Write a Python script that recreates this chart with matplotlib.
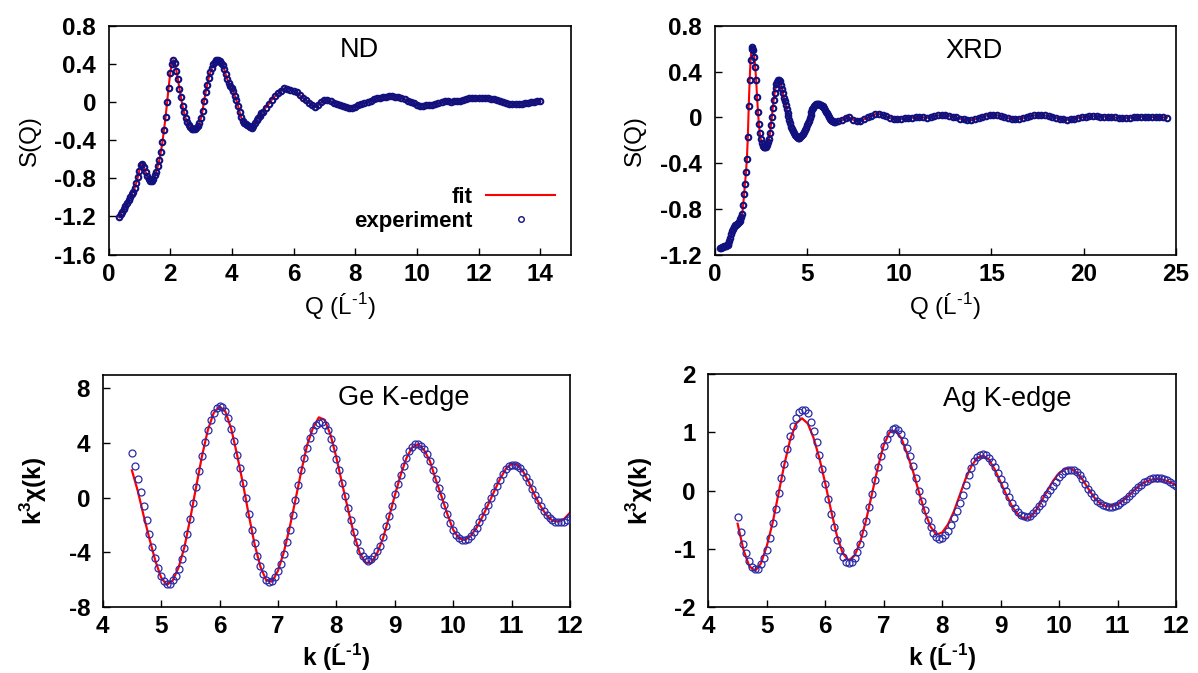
import numpy as np
import matplotlib
matplotlib.use('Agg')
import matplotlib.pyplot as plt
from matplotlib.ticker import FuncFormatter

# ---------------- data ----------------
# ND: S(Q), part 1 from Q=0.35 step 0.05, part 2 from Q=5.1 step 0.1
nd_q1_start, nd_q1_step = 0.35, 0.05
nd_s1 = [-1.21, -1.18, -1.15, -1.12, -1.09, -1.06, -1.03, -1.00, -0.97, -0.94,
         -0.90, -0.85, -0.79, -0.72, -0.66, -0.65, -0.68, -0.73, -0.78, -0.81,
         -0.83, -0.83, -0.81, -0.77, -0.73, -0.67, -0.61, -0.52, -0.42, -0.29,
         -0.16, 0.00, 0.15, 0.30, 0.40, 0.44, 0.41, 0.33, 0.24, 0.14,
         0.05, -0.04, -0.11, -0.17, -0.21, -0.24, -0.26, -0.28, -0.285, -0.28,
         -0.27, -0.25, -0.22, -0.17, -0.09, 0.01, 0.10, 0.18, 0.25, 0.31,
         0.36, 0.40, 0.42, 0.435, 0.44, 0.43, 0.41, 0.39, 0.35, 0.29,
         0.24, 0.20, 0.17, 0.15, 0.11, 0.06, 0.02, -0.04, -0.10, -0.16,
         -0.20, -0.22, -0.23, -0.24, -0.25, -0.26, -0.27, -0.25, -0.22, -0.19,
         -0.17, -0.15, -0.12, -0.10]
nd_q2_start, nd_q2_step = 5.1, 0.1
nd_s2 = [-0.06, -0.02, 0.025, 0.06, 0.09, 0.12, 0.145, 0.14, 0.13, 0.12,
         0.10, 0.07, 0.04, 0.02, -0.01, -0.03, -0.05, -0.03, 0.00, 0.02,
         0.02, 0.01, -0.01, -0.025, -0.035, -0.045, -0.055, -0.062, -0.06, -0.05,
         -0.035, -0.02, -0.01, 0.00, 0.015, 0.03, 0.04, 0.045, 0.05, 0.055,
         0.06, 0.06, 0.055, 0.05, 0.042, 0.03, 0.015, 0.00, -0.015, -0.03,
         -0.038, -0.038, -0.035, -0.03, -0.028, -0.025, -0.015, -0.005, 0.005, 0.005,
         0.003, 0.005, 0.007, 0.01, 0.02, 0.03, 0.038, 0.042, 0.042, 0.045,
         0.045, 0.043, 0.04, 0.035, 0.03, 0.02, 0.01, 0.00, -0.01, -0.018,
         -0.02, -0.022, -0.02, -0.018, -0.015, -0.01, -0.005, 0.00, 0.005, 0.01]

# XRD: S(Q), part 1 from Q=0.30 step 0.05, part 2 from Q=6.7 step 0.2
xrd_q1_start, xrd_q1_step = 0.30, 0.05
xrd_s1 = [-1.14, -1.135, -1.13, -1.13, -1.125, -1.12, -1.12, -1.115, -1.11, -1.10,
          -1.08, -1.05, -1.02, -0.995, -0.975, -0.955, -0.94, -0.935, -0.93, -0.925,
          -0.915, -0.905, -0.89, -0.87, -0.84, -0.76, -0.67, -0.58, -0.48, -0.36,
          -0.17, 0.10, 0.33, 0.50, 0.60, 0.61, 0.59, 0.53, 0.44, 0.33,
          0.18, 0.05, -0.06, -0.14, -0.19, -0.22, -0.245, -0.255, -0.26, -0.262,
          -0.255, -0.24, -0.215, -0.19, -0.14, -0.07, 0.00, 0.08, 0.15, 0.21,
          0.26, 0.29, 0.31, 0.325, 0.33, 0.315, 0.285, 0.25, 0.21, 0.17,
          0.14, 0.11, 0.07, 0.035, 0.01, -0.02, -0.05, -0.08, -0.10, -0.12,
          -0.14, -0.155, -0.165, -0.175, -0.18, -0.18, -0.178, -0.172, -0.165, -0.155,
          -0.145, -0.13, -0.11, -0.09, -0.07, -0.05, -0.03, -0.005, 0.02, 0.045,
          0.07, 0.085, 0.10, 0.11, 0.118, 0.12, 0.12, 0.115, 0.11, 0.105,
          0.10, 0.096, 0.09, 0.08, 0.065, 0.05, 0.035, 0.02, 0.005, -0.01,
          -0.02, -0.03, -0.035, -0.037, -0.037]
xrd_q2_start, xrd_q2_step = 6.7, 0.2
xrd_s2 = [-0.033, -0.025, -0.005, 0.000, -0.02, -0.033, -0.03, -0.015, 0.00, 0.015,
          0.028, 0.032, 0.025, 0.01, -0.005, -0.012, -0.015, -0.012, -0.008, -0.005,
          -0.002, 0.002, 0.004, 0.002, -0.003, 0.000, 0.01, 0.018, 0.022, 0.02,
          0.015, 0.008, 0.00, -0.01, -0.018, -0.024, -0.024, -0.015, -0.005, 0.005,
          0.015, 0.02, 0.023, 0.02, 0.012, 0.003, -0.006, -0.012, -0.015, -0.013,
          -0.005, 0.005, 0.013, 0.018, 0.022, 0.022, 0.018, 0.012, 0.005, -0.003,
          -0.01, -0.016, -0.02, -0.017, -0.01, -0.003, 0.003, 0.007, 0.01, 0.01,
          0.01, 0.008, 0.008, 0.008, 0.004, 0.00, -0.004, -0.006, -0.005, -0.002,
          0.002, 0.005, 0.006, 0.006, 0.004, 0.003, 0.004, 0.004, 0.002, -0.002]

# Ge K-edge k^3 chi(k): experiment from k=4.5 step 0.05, fit from k=4.5 step 0.1
k_start, k_exp_step, k_fit_step = 4.5, 0.05, 0.1
ge_exp = [3.30, 2.30, 1.40, 0.45, -0.60, -1.65, -2.65, -3.60, -4.45, -5.15,
          -5.72, -6.10, -6.32, -6.33, -6.05, -5.70, -5.20, -4.50, -3.65, -2.65,
          -1.55, -0.40, 0.80, 1.95, 3.05, 4.08, 4.95, 5.67, 6.22, 6.55,
          6.72, 6.65, 6.32, 5.80, 5.05, 4.15, 3.15, 2.15, 1.10, 0.00,
          -1.20, -2.35, -3.35, -4.30, -5.02, -5.62, -6.02, -6.17, -6.08, -5.80,
          -5.40, -4.85, -4.10, -3.27, -2.35, -1.30, -0.20, 0.95, 2.00, 2.90,
          3.60, 4.35, 4.95, 5.35, 5.50, 5.52, 5.34, 4.93, 4.32, 3.65,
          2.85, 2.00, 1.10, 0.15, -0.75, -1.65, -2.50, -3.25, -3.90, -4.25,
          -4.52, -4.60, -4.50, -4.25, -3.93, -3.50, -2.85, -2.10, -1.35, -0.60,
          0.25, 1.00, 1.65, 2.35, 2.90, 3.42, 3.73, 3.90, 3.92, 3.78,
          3.55, 3.20, 2.70, 2.00, 1.35, 0.70, 0.15, -0.55, -1.20, -1.85,
          -2.40, -2.75, -2.98, -3.10, -3.10, -3.00, -2.80, -2.50, -2.20, -1.80,
          -1.40, -0.95, -0.55, -0.05, 0.42, 0.85, 1.28, 1.72, 2.08, 2.30,
          2.40, 2.42, 2.35, 2.18, 1.90, 1.55, 1.12, 0.65, 0.20, -0.20,
          -0.60, -0.95, -1.25, -1.50, -1.65, -1.75, -1.80, -1.80, -1.75, -1.62,
          -1.45]
ge_fit = [2.00, 0.50, -1.30, -3.00, -4.60, -5.85, -6.38, -6.05, -5.10, -3.60,
          -1.50, 0.80, 3.05, 4.95, 6.20, 6.68, 6.30, 5.05, 3.15, 1.05,
          -1.25, -3.40, -5.05, -6.05, -6.15, -5.35, -4.00, -2.20, -0.15, 1.95,
          3.85, 5.10, 5.88, 5.70, 4.60, 2.95, 1.00, -0.85, -2.65, -4.05,
          -4.75, -4.78, -4.05, -2.95, -1.45, 0.15, 1.65, 2.90, 3.70, 3.92,
          3.50, 2.70, 1.35, 0.10, -1.20, -2.35, -2.98, -3.10, -2.80, -2.20,
          -1.40, -0.50, 0.45, 1.35, 2.10, 2.48, 2.40, 1.90, 1.10, 0.15,
          -0.65, -1.30, -1.68, -1.75, -1.55, -1.10]

# Ag K-edge k^3 chi(k)
ag_exp = [-0.46, -0.72, -0.92, -1.08, -1.21, -1.31, -1.35, -1.34, -1.27, -1.16,
          -1.02, -0.82, -0.56, -0.31, -0.04, 0.22, 0.46, 0.72, 0.93, 1.10,
          1.24, 1.34, 1.38, 1.38, 1.33, 1.17, 1.02, 0.84, 0.61, 0.37,
          0.11, -0.14, -0.40, -0.62, -0.85, -1.02, -1.15, -1.22, -1.25, -1.23,
          -1.16, -1.06, -0.92, -0.73, -0.52, -0.29, -0.06, 0.18, 0.40, 0.60,
          0.77, 0.89, 0.99, 1.05, 1.07, 1.04, 0.97, 0.85, 0.73, 0.59,
          0.42, 0.22, 0.00, -0.18, -0.34, -0.50, -0.63, -0.73, -0.80, -0.83,
          -0.82, -0.77, -0.69, -0.59, -0.48, -0.35, -0.21, -0.07, 0.10, 0.26,
          0.38, 0.50, 0.57, 0.61, 0.63, 0.61, 0.56, 0.49, 0.41, 0.30,
          0.19, 0.10, 0.00, -0.11, -0.21, -0.30, -0.37, -0.42, -0.44, -0.45,
          -0.44, -0.39, -0.33, -0.27, -0.21, -0.13, -0.06, 0.01, 0.08, 0.15,
          0.23, 0.29, 0.33, 0.36, 0.36, 0.35, 0.32, 0.26, 0.19, 0.11,
          0.03, -0.05, -0.12, -0.18, -0.22, -0.25, -0.27, -0.28, -0.28, -0.27,
          -0.25, -0.22, -0.18, -0.14, -0.09, -0.04, 0.01, 0.06, 0.10, 0.14,
          0.17, 0.19, 0.21, 0.22, 0.22, 0.21, 0.20, 0.18, 0.15, 0.12,
          0.08]
ag_fit = [-0.57, -1.02, -1.30, -1.38, -1.25, -0.95, -0.55, -0.05, 0.45, 0.88,
          1.15, 1.24, 1.15, 0.90, 0.55, 0.12, -0.35, -0.78, -1.08, -1.20,
          -1.12, -0.88, -0.50, -0.05, 0.40, 0.78, 1.00, 1.03, 0.90, 0.63,
          0.33, -0.02, -0.36, -0.62, -0.76, -0.72, -0.58, -0.36, -0.08, 0.20,
          0.42, 0.56, 0.60, 0.53, 0.36, 0.14, -0.08, -0.28, -0.42, -0.48,
          -0.46, -0.35, -0.18, 0.00, 0.17, 0.30, 0.37, 0.38, 0.31, 0.19,
          0.03, -0.12, -0.22, -0.27, -0.27, -0.24, -0.17, -0.08, 0.02, 0.10,
          0.16, 0.19, 0.20, 0.18, 0.14, 0.09]

panel_titles = ['ND', 'XRD', 'Ge K-edge', 'Ag K-edge']
legend_labels = ['fit', 'experiment']
q_label = 'Q (Ĺ$^{\\mathregular{\u20101}}$)'
k_label = 'k (Ĺ$^{\\mathregular{\u20101}}$)'
chi_label = 'k$^{\\mathregular{3}}$χ(k)'


def grid(start, step, vals):
    return start + step * np.arange(len(vals))


nd_q = np.concatenate([grid(nd_q1_start, nd_q1_step, nd_s1), grid(nd_q2_start, nd_q2_step, nd_s2)])
nd_s = np.array(nd_s1 + nd_s2)
xrd_q = np.concatenate([grid(xrd_q1_start, xrd_q1_step, xrd_s1), grid(xrd_q2_start, xrd_q2_step, xrd_s2)])
xrd_s = np.array(xrd_s1 + xrd_s2)
ge_k = grid(k_start, k_exp_step, ge_exp)
ge_kf = grid(k_start, k_fit_step, ge_fit)
ag_k = grid(k_start, k_exp_step, ag_exp)
ag_kf = grid(k_start, k_fit_step, ag_fit)

# ---------------- style ----------------
plt.rcParams['font.family'] = ['Liberation Sans', 'DejaVu Sans']
plt.rcParams['mathtext.fontset'] = 'custom'
plt.rcParams['mathtext.rm'] = 'Liberation Sans'

RED = '#ff0000'
NAVY = '#10107e'
BLUE = '#2a2aa8'
TICK_FS = 17.5
LABEL_FS = 17.5
TITLE_FS = 19.5

W, H = 1198, 673
fig = plt.figure(figsize=(W / 100, H / 100), dpi=100)


def add_ax(x0, y0, x1, y1):
    return fig.add_axes([x0 / W, 1 - y1 / H, (x1 - x0) / W, (y1 - y0) / H])


ax_nd = add_ax(108.5, 25.7, 571, 254.5)
ax_xrd = add_ax(714.6, 25.7, 1176, 255)
ax_ge = add_ax(102.7, 374.7, 570, 607)
ax_ag = add_ax(708.4, 374, 1176, 607)

dec_fmt = FuncFormatter(lambda v, p: '0' if abs(v) < 1e-9 else f'{v:.1f}')
int_fmt = FuncFormatter(lambda v, p: f'{int(round(v))}')


def style(ax, ylab_px, xlab_top_px, ax_px):
    x0, y0, x1, y1 = ax_px
    for s in ax.spines.values():
        s.set_linewidth(1.2)
        s.set_color('black')
    ax.tick_params(direction='in', length=5, width=1, top=False, right=False,
                   labelsize=TICK_FS)
    ax.tick_params(axis='y', pad=9)
    ax.tick_params(axis='x', pad=6)
    for lab in ax.get_xticklabels() + ax.get_yticklabels():
        lab.set_fontweight('bold')
    ax.yaxis.set_label_coords((ylab_px - x0) / (x1 - x0), 0.5)
    ax.xaxis.set_label_coords(0.5, (y1 - xlab_top_px) / (y1 - y0))


# ND
ax = ax_nd
ax.plot(nd_q, nd_s, color=RED, lw=1.5, label=legend_labels[0], zorder=2)
ax.plot(nd_q, nd_s, 'o', ms=4.0, mfc='none', mec=NAVY, mew=1.5, label=legend_labels[1], zorder=3)
ax.set_xlim(0, 15)
ax.set_ylim(-1.6, 0.8)
ax.set_xticks(np.arange(0, 15, 2))
ax.set_yticks(np.arange(-1.6, 0.81, 0.4))
ax.yaxis.set_major_formatter(dec_fmt)
ax.set_xlabel(q_label, fontsize=LABEL_FS)
ax.set_ylabel('S(Q)', fontsize=LABEL_FS)
ax.text(0.542, 0.862, panel_titles[0], transform=ax.transAxes, ha='center', va='baseline', fontsize=TITLE_FS)
leg = ax.legend(loc='lower right', bbox_to_anchor=(0.985, 0.06), frameon=False, markerfirst=False,
                prop={'weight': 'bold', 'size': 16}, handlelength=3.1, numpoints=1,
                handletextpad=0.6, labelspacing=0.15, borderaxespad=0)
leg.legend_handles[1].set_markeredgewidth(1.0)
style(ax, 41, 291, (108.5, 25.7, 571, 254.5))

# XRD
ax = ax_xrd
ax.plot(xrd_q, xrd_s, color=RED, lw=1.5, zorder=2)
ax.plot(xrd_q, xrd_s, 'o', ms=4.0, mfc='none', mec=NAVY, mew=1.5, zorder=3)
ax.set_xlim(0, 25)
ax.set_ylim(-1.2, 0.8)
ax.set_xticks(np.arange(0, 26, 5))
ax.set_yticks(np.arange(-1.2, 0.81, 0.4))
ax.yaxis.set_major_formatter(dec_fmt)
ax.set_xlabel(q_label, fontsize=LABEL_FS)
ax.set_ylabel('S(Q)', fontsize=LABEL_FS)
ax.text(0.563, 0.858, panel_titles[1], transform=ax.transAxes, ha='center', va='baseline', fontsize=TITLE_FS)
style(ax, 646, 291, (714.6, 25.7, 1176, 255))

# Ge
ax = ax_ge
ax.plot(ge_kf, ge_fit, color=RED, lw=1.6, zorder=2)
ax.plot(ge_k, ge_exp, 'o', ms=5.0, mfc='none', mec=BLUE, mew=0.9, zorder=3)
ax.set_xlim(4, 12)
ax.set_ylim(-8, 9)
ax.set_xticks(np.arange(4, 13, 1))
ax.set_yticks(np.arange(-8, 9, 4))
ax.xaxis.set_major_formatter(int_fmt)
ax.yaxis.set_major_formatter(int_fmt)
ax.set_xlabel(k_label, fontsize=LABEL_FS, fontweight='bold')
ax.set_ylabel(chi_label, fontsize=LABEL_FS, fontweight='bold')
ax.text(0.645, 0.870, panel_titles[2], transform=ax.transAxes, ha='center', va='baseline', fontsize=TITLE_FS)
style(ax, 49, 641, (102.7, 374.7, 570, 607))

# Ag
ax = ax_ag
ax.plot(ag_kf, ag_fit, color=RED, lw=1.6, zorder=2)
ax.plot(ag_k, ag_exp, 'o', ms=5.0, mfc='none', mec=BLUE, mew=0.9, zorder=3)
ax.set_xlim(4, 12)
ax.set_ylim(-2, 2)
ax.set_xticks(np.arange(4, 13, 1))
ax.set_yticks(np.arange(-2, 2.1, 1))
ax.xaxis.set_major_formatter(int_fmt)
ax.yaxis.set_major_formatter(int_fmt)
ax.set_xlabel(k_label, fontsize=LABEL_FS, fontweight='bold')
ax.set_ylabel(chi_label, fontsize=LABEL_FS, fontweight='bold')
ax.text(0.639, 0.864, panel_titles[3], transform=ax.transAxes, ha='center', va='baseline', fontsize=TITLE_FS)
style(ax, 655, 641, (708.4, 374, 1176, 607))

fig.savefig('out.png', dpi=100)
